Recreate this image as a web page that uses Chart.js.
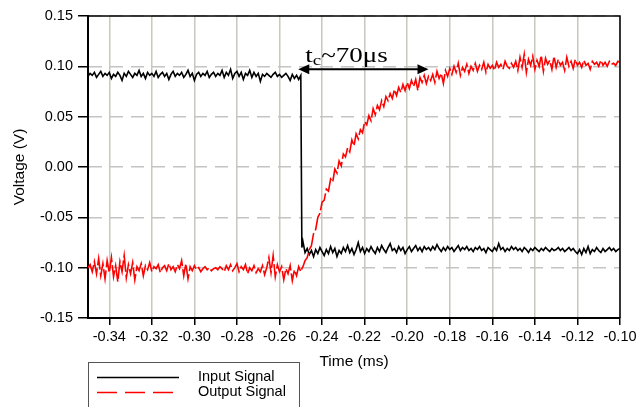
<!DOCTYPE html>
<html>
<head>
<meta charset="utf-8">
<script src="https://cdn.jsdelivr.net/npm/chart.js@4.4.1/dist/chart.umd.min.js"></script>
<style>
      body { margin: 0; background: #fff; }
</style>
</head>
<body>
<canvas id="signalChart" width="638" height="407"></canvas>
<script>
// Sample times (ms), shared by both signals
let times = [
      -0.350,-0.349,-0.348,-0.347,-0.346,-0.345,-0.344,-0.343,-0.342,-0.341,
      -0.340,-0.339,-0.338,-0.337,-0.336,-0.335,-0.334,-0.333,-0.332,-0.331,
      -0.330,-0.329,-0.328,-0.327,-0.326,-0.325,-0.324,-0.323,-0.322,-0.321,
      -0.320,-0.319,-0.318,-0.317,-0.316,-0.315,-0.314,-0.313,-0.312,-0.311,
      -0.310,-0.309,-0.308,-0.307,-0.306,-0.305,-0.304,-0.303,-0.302,-0.301,
      -0.300,-0.299,-0.298,-0.297,-0.296,-0.295,-0.294,-0.293,-0.292,-0.291,
      -0.290,-0.289,-0.288,-0.287,-0.286,-0.285,-0.284,-0.283,-0.282,-0.281,
      -0.280,-0.279,-0.278,-0.277,-0.276,-0.275,-0.274,-0.273,-0.272,-0.271,
      -0.270,-0.269,-0.268,-0.267,-0.266,-0.265,-0.264,-0.263,-0.262,-0.261,
      -0.260,-0.259,-0.258,-0.257,-0.256,-0.255,-0.254,-0.253,-0.252,-0.251,
      -0.250,
      -0.2495,
      -0.249,-0.248,-0.247,-0.246,-0.245,-0.244,-0.243,-0.242,-0.241,-0.240,
      -0.239,-0.238,-0.237,-0.236,-0.235,-0.234,-0.233,-0.232,-0.231,-0.230,
      -0.229,-0.228,-0.227,-0.226,-0.225,-0.224,-0.223,-0.222,-0.221,-0.220,
      -0.219,-0.218,-0.217,-0.216,-0.215,-0.214,-0.213,-0.212,-0.211,-0.210,
      -0.209,-0.208,-0.207,-0.206,-0.205,-0.204,-0.203,-0.202,-0.201,-0.200,
      -0.199,-0.198,-0.197,-0.196,-0.195,-0.194,-0.193,-0.192,-0.191,-0.190,
      -0.189,-0.188,-0.187,-0.186,-0.185,-0.184,-0.183,-0.182,-0.181,-0.180,
      -0.179,-0.178,-0.177,-0.176,-0.175,-0.174,-0.173,-0.172,-0.171,-0.170,
      -0.169,-0.168,-0.167,-0.166,-0.165,-0.164,-0.163,-0.162,-0.161,-0.160,
      -0.159,-0.158,-0.157,-0.156,-0.155,-0.154,-0.153,-0.152,-0.151,-0.150,
      -0.149,-0.148,-0.147,-0.146,-0.145,-0.144,-0.143,-0.142,-0.141,-0.140,
      -0.139,-0.138,-0.137,-0.136,-0.135,-0.134,-0.133,-0.132,-0.131,-0.130,
      -0.129,-0.128,-0.127,-0.126,-0.125,-0.124,-0.123,-0.122,-0.121,-0.120,
      -0.119,-0.118,-0.117,-0.116,-0.115,-0.114,-0.113,-0.112,-0.111,-0.110,
      -0.109,-0.108,-0.107,-0.106,-0.105,-0.104,-0.103,-0.102,-0.101,-0.100
];

// Input signal (V)
let inputSignal = [
      0.090,0.093,0.091,0.094,0.089,0.092,0.095,0.090,0.093,0.091,
      0.094,0.088,0.092,0.090,0.094,0.091,0.086,0.093,0.090,0.095,
      0.092,0.089,0.093,0.091,0.096,0.090,0.093,0.088,0.094,0.091,
      0.093,0.090,0.095,0.089,0.092,0.094,0.090,0.093,0.087,0.092,
      0.095,0.090,0.093,0.091,0.094,0.089,0.092,0.096,0.090,0.093,
      0.086,0.092,0.094,0.090,0.093,0.091,0.095,0.089,0.092,0.094,
      0.090,0.093,0.091,0.096,0.089,0.094,0.091,0.097,0.088,0.093,
      0.095,0.090,0.094,0.087,0.093,0.091,0.096,0.089,0.094,0.090,
      0.093,0.085,0.092,0.090,0.093,0.091,0.089,0.092,0.094,0.090,
      0.092,0.089,0.091,0.093,0.090,0.086,0.092,0.088,0.091,0.087,
      0.091,
      -0.080,
      -0.074,-0.085,-0.081,-0.087,-0.083,-0.089,-0.082,-0.086,-0.080,-0.084,
      -0.088,-0.082,-0.086,-0.079,-0.085,-0.081,-0.089,-0.083,-0.086,-0.080,
      -0.084,-0.078,-0.085,-0.081,-0.087,-0.082,-0.075,-0.084,-0.080,-0.086,
      -0.081,-0.084,-0.079,-0.083,-0.086,-0.080,-0.084,-0.078,-0.082,-0.085,
      -0.080,-0.076,-0.083,-0.081,-0.085,-0.079,-0.083,-0.080,-0.086,-0.082,
      -0.079,-0.084,-0.081,-0.078,-0.083,-0.080,-0.084,-0.079,-0.082,-0.080,
      -0.083,-0.079,-0.082,-0.077,-0.081,-0.084,-0.080,-0.083,-0.079,-0.082,
      -0.080,-0.084,-0.081,-0.078,-0.083,-0.080,-0.082,-0.079,-0.083,-0.081,
      -0.084,-0.080,-0.082,-0.079,-0.083,-0.081,-0.085,-0.080,-0.082,-0.084,
      -0.080,-0.083,-0.076,-0.082,-0.080,-0.084,-0.081,-0.083,-0.079,-0.082,
      -0.080,-0.083,-0.081,-0.084,-0.080,-0.082,-0.085,-0.081,-0.083,-0.080,
      -0.082,-0.084,-0.081,-0.083,-0.080,-0.082,-0.084,-0.081,-0.083,-0.082,
      -0.080,-0.083,-0.081,-0.084,-0.082,-0.080,-0.083,-0.081,-0.084,-0.086,
      -0.082,-0.087,-0.081,-0.085,-0.079,-0.086,-0.082,-0.084,-0.080,-0.083,
      -0.085,-0.081,-0.084,-0.082,-0.080,-0.083,-0.081,-0.084,-0.082,-0.081
];

// Output signal (V)
let outputSignal = [
      -0.100,-0.097,-0.104,-0.094,-0.106,-0.091,-0.108,-0.096,-0.111,-0.093,
      -0.105,-0.090,-0.109,-0.098,-0.114,-0.094,-0.104,-0.088,-0.110,-0.097,
      -0.106,-0.095,-0.112,-0.099,-0.103,-0.096,-0.108,-0.098,-0.102,-0.095,
      -0.104,-0.099,-0.101,-0.097,-0.105,-0.100,-0.098,-0.103,-0.096,-0.102,
      -0.099,-0.104,-0.097,-0.101,-0.093,-0.108,-0.096,-0.111,-0.099,-0.103,
      -0.098,-0.102,-0.100,-0.104,-0.101,-0.099,-0.102,-0.100,-0.103,-0.101,
      -0.100,-0.102,-0.099,-0.101,-0.104,-0.098,-0.102,-0.097,-0.103,-0.100,
      -0.096,-0.104,-0.099,-0.102,-0.097,-0.106,-0.100,-0.103,-0.098,-0.105,
      -0.101,-0.104,-0.098,-0.107,-0.100,-0.090,-0.105,-0.088,-0.109,-0.097,
      -0.104,-0.099,-0.112,-0.101,-0.106,-0.098,-0.113,-0.102,-0.108,-0.099,
      -0.104,
      -0.101,
      -0.099,-0.093,-0.090,-0.082,-0.078,-0.066,-0.062,-0.050,-0.046,-0.035,
      -0.033,-0.022,-0.024,-0.012,-0.015,-0.002,-0.006,0.006,0.001,0.013,
      0.010,0.019,0.015,0.027,0.021,0.033,0.028,0.037,0.034,0.045,
      0.042,0.051,0.046,0.058,0.052,0.061,0.057,0.066,0.060,0.070,
      0.066,0.073,0.068,0.077,0.071,0.079,0.074,0.082,0.076,0.084,
      0.078,0.086,0.080,0.087,0.076,0.089,0.084,0.091,0.083,0.090,
      0.086,0.092,0.084,0.095,0.088,0.093,0.083,0.096,0.090,0.098,
      0.092,0.100,0.094,0.103,0.091,0.099,0.095,0.102,0.093,0.100,
      0.096,0.103,0.095,0.101,0.097,0.104,0.094,0.102,0.098,0.101,
      0.096,0.104,0.099,0.102,0.097,0.105,0.100,0.098,0.103,0.099,
      0.105,0.096,0.109,0.099,0.112,0.094,0.107,0.101,0.110,0.097,
      0.106,0.100,0.111,0.095,0.108,0.102,0.106,0.097,0.110,0.099,
      0.107,0.101,0.104,0.096,0.109,0.100,0.105,0.098,0.107,0.101,
      0.104,0.099,0.106,0.101,0.103,0.097,0.105,0.102,0.104,0.100,
      0.106,0.101,0.104,0.100,0.105,0.102,0.103,0.101,0.105,0.104
];

let seriesNames = ["Input Signal", "Output Signal"];
let xTicks = [-0.34, -0.32, -0.30, -0.28, -0.26, -0.24, -0.22, -0.20, -0.18, -0.16, -0.14, -0.12, -0.10];
let yTicks = [-0.15, -0.10, -0.05, 0.00, 0.05, 0.10, 0.15];

let sans = "'Liberation Sans', Arial, sans-serif";
let serif = "'Liberation Serif', 'Times New Roman', serif";

let toPoints = (values) => times.map((t, i) => ({ x: t, y: values[i] }));

// Top/right frame, the tc arrow and the boxed legend
let extras = {
      id: "extras",
      afterDraw: (chart) => {
            let ctx = chart.ctx;
            let area = chart.chartArea;
            let xs = chart.scales.x;
            let ys = chart.scales.y;
            ctx.save();

            ctx.strokeStyle = "#000";
            ctx.lineWidth = 1.5;
            ctx.beginPath();
            ctx.moveTo(area.left, area.top);
            ctx.lineTo(area.right, area.top);
            ctx.lineTo(area.right, area.bottom);
            ctx.stroke();

            // double arrow
            let x1 = xs.getPixelForValue(-0.2512);
            let x2 = xs.getPixelForValue(-0.190);
            let ay = ys.getPixelForValue(0.097);
            ctx.lineWidth = 2;
            ctx.beginPath();
            ctx.moveTo(x1 + 6, ay);
            ctx.lineTo(x2 - 6, ay);
            ctx.stroke();
            ctx.fillStyle = "#000";
            ctx.beginPath();
            ctx.moveTo(x1, ay);
            ctx.lineTo(x1 + 11, ay - 5);
            ctx.lineTo(x1 + 11, ay + 5);
            ctx.closePath();
            ctx.fill();
            ctx.beginPath();
            ctx.moveTo(x2, ay);
            ctx.lineTo(x2 - 11, ay - 5);
            ctx.lineTo(x2 - 11, ay + 5);
            ctx.closePath();
            ctx.fill();

            // t_c label
            ctx.save();
            ctx.translate(x1 + 7, ay - 7);
            ctx.scale(1.35, 1);
            ctx.textBaseline = "alphabetic";
            ctx.textAlign = "left";
            ctx.font = "20px " + serif;
            ctx.fillText("t", 0, 0);
            let w = ctx.measureText("t").width;
            ctx.font = "14px " + serif;
            ctx.fillText("c", w, 3);
            w += ctx.measureText("c").width;
            ctx.font = "20px " + serif;
            ctx.fillText("~70\u03bcs", w, 0);
            ctx.restore();

            // legend
            ctx.lineWidth = 1;
            ctx.strokeStyle = "#555";
            ctx.strokeRect(88.5, 362.5, 211, 60);
            ctx.lineWidth = 1.5;
            ctx.strokeStyle = "#000";
            ctx.beginPath();
            ctx.moveTo(97, 377.5);
            ctx.lineTo(179, 377.5);
            ctx.stroke();
            ctx.strokeStyle = "#ff0000";
            ctx.setLineDash([20, 8]);
            ctx.beginPath();
            ctx.moveTo(97, 392.5);
            ctx.lineTo(173, 392.5);
            ctx.stroke();
            ctx.setLineDash([]);
            ctx.fillStyle = "#000";
            ctx.font = "14.5px " + sans;
            ctx.textBaseline = "middle";
            ctx.fillText(seriesNames[0], 198, 377);
            ctx.fillText(seriesNames[1], 198, 392);

            ctx.restore();
      }
};

let ctx = document.getElementById("signalChart").getContext("2d");
new Chart(ctx, {
      type: "line",
      data: {
            datasets: [{
                  label: seriesNames[0],
                  data: toPoints(inputSignal),
                  borderColor: "#000",
                  borderWidth: 1.6,
                  pointRadius: 0,
                  order: 1
            }, {
                  label: seriesNames[1],
                  data: toPoints(outputSignal),
                  borderColor: "#ff0000",
                  borderWidth: 1.6,
                  borderDash: [18, 3],
                  pointRadius: 0,
                  order: 0
            }]
      },
      options: {
            responsive: false,
            animation: false,
            devicePixelRatio: 1,
            layout: { padding: { top: 16, right: 18, bottom: 0, left: 0 } },
            plugins: { legend: { display: false }, tooltip: { enabled: false } },
            scales: {
                  x: {
                        type: "linear",
                        min: -0.35,
                        max: -0.10,
                        afterBuildTicks: (s) => { s.ticks = xTicks.map((v) => ({ value: v })); },
                        afterFit: (s) => { s.height = 89; s.paddingLeft = 0; s.paddingRight = 18; },
                        ticks: {
                              color: "#000",
                              padding: 3,
                              maxRotation: 0,
                              font: { family: sans, size: 14.5 },
                              callback: (v) => v.toFixed(2)
                        },
                        grid: {
                              color: "#c8c8bc",
                              lineWidth: 1.5,
                              tickColor: "#000",
                              tickWidth: 1.5,
                              tickLength: 7
                        },
                        border: { color: "#000", width: 2 },
                        title: {
                              display: true,
                              text: "Time (ms)",
                              color: "#000",
                              font: { family: sans, size: 15.5 },
                              padding: { top: 0, bottom: 36 }
                        }
                  },
                  y: {
                        type: "linear",
                        min: -0.15,
                        max: 0.15,
                        afterBuildTicks: (s) => { s.ticks = yTicks.map((v) => ({ value: v })); },
                        afterFit: (s) => { s.width = 88; },
                        ticks: {
                              color: "#000",
                              padding: 5,
                              font: { family: sans, size: 14.5 },
                              callback: (v) => v.toFixed(2)
                        },
                        grid: {
                              color: "#c4c4c4",
                              lineWidth: 1.5,
                              tickColor: "#000",
                              tickWidth: 1.5,
                              tickLength: 10,
                              tickBorderDash: [1, 0]
                        },
                        border: { color: "#000", width: 2, dash: [13, 8] },
                        title: {
                              display: true,
                              text: "Voltage (V)",
                              color: "#000",
                              font: { family: sans, size: 15.5 },
                              padding: { top: 10, bottom: 0 }
                        }
                  }
            }
      },
      plugins: [extras]
});
</script>
</body>
</html>
